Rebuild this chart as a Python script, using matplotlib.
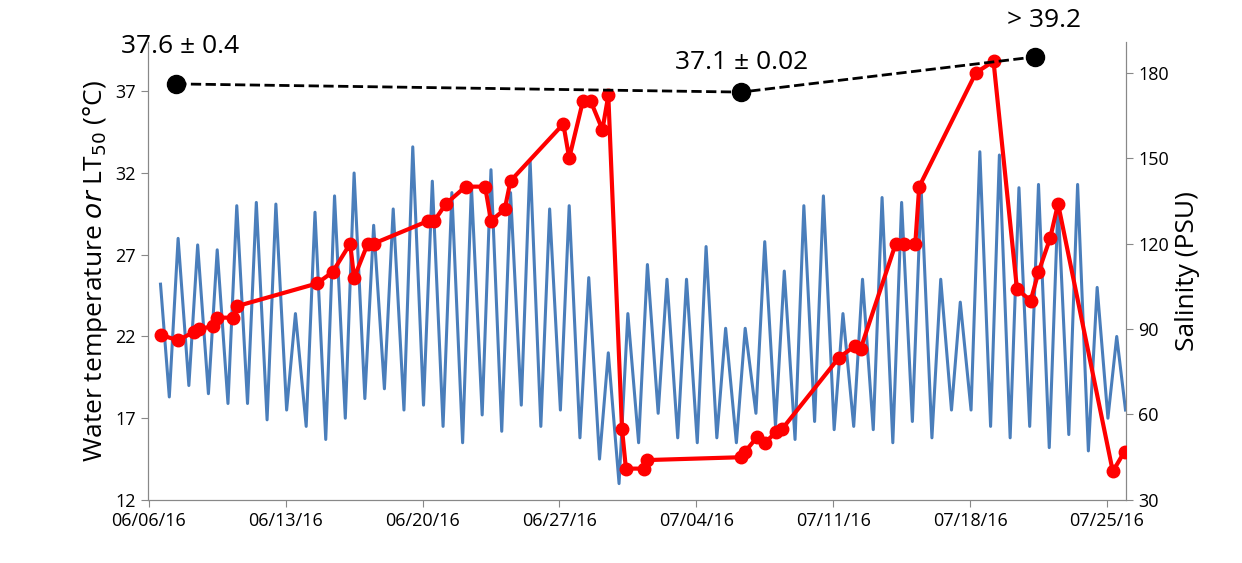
import matplotlib
matplotlib.use("Agg")
import matplotlib.pyplot as plt
import numpy as np

plt.rcParams["font.family"] = ["Open Sans", "DejaVu Sans"]

# day offsets from 06/06/16
tick_days = [0, 7, 14, 21, 28, 35, 42, 49]
tick_labels = ["06/06/16", "06/13/16", "06/20/16", "06/27/16", "07/04/16", "07/11/16", "07/18/16", "07/25/16"]

# water temperature: daily peaks (days 1..49) and morning troughs
temp_start = 25.2
temp_peaks = [28.0, 27.6, 27.3, 30.0, 30.2, 30.1, 23.4, 29.6, 30.6, 32.0,
              28.8, 29.8, 33.6, 31.5, 30.8, 31.2, 32.2, 30.8, 32.8, 29.8,
              30.0, 25.6, 21.0, 23.4, 26.4, 25.5, 25.5, 27.5, 22.5, 22.5,
              27.8, 26.0, 30.0, 30.6, 23.4, 25.5, 30.5, 30.2, 31.0, 25.5,
              24.1, 33.3, 33.1, 31.1, 31.3, 30.2, 31.3, 25.0, 22.0]
temp_troughs = [18.3, 19.0, 18.5, 17.9, 17.9, 16.9, 17.5, 16.5, 15.7, 17.0,
                18.2, 18.8, 17.5, 17.8, 16.5, 15.5, 17.2, 16.2, 17.8, 16.5,
                17.5, 15.8, 14.5, 13.0, 15.5, 17.3, 15.8, 15.5, 15.8, 15.5,
                17.3, 16.5, 15.7, 16.8, 16.3, 16.5, 16.3, 15.5, 16.8, 15.8,
                17.5, 17.5, 16.5, 15.8, 16.5, 15.2, 16.0, 15.0, 17.0]
temp_end = 17.5

# salinity (PSU)
sal_days = [0.6, 1.5, 2.3, 2.55, 3.3, 3.5, 4.3, 4.5, 8.6, 9.4, 10.3, 10.5, 11.2, 11.5,
            14.3, 14.6, 15.2, 16.2, 17.2, 17.5, 18.2, 18.5, 21.2, 21.5, 22.2, 22.6,
            23.2, 23.5, 24.2, 24.4, 25.3, 25.5, 30.3, 30.5, 31.1, 31.5, 32.1, 32.4,
            35.3, 36.1, 36.4, 38.2, 38.6, 39.2, 39.4, 42.3, 43.2, 44.4, 45.1, 45.5,
            46.1, 46.5, 49.3, 49.9]
sal_vals = [88, 86, 89, 90, 91, 94, 94, 98, 106, 110, 120, 108, 120, 120,
            128, 128, 134, 140, 140, 128, 132, 142, 162, 150, 170, 170,
            160, 172, 55, 41, 41, 44, 45, 47, 52, 50, 54, 55,
            80, 84, 83, 120, 120, 120, 140, 180, 184, 104, 100, 110,
            122, 134, 40, 47]

# LT50
lt_days = [1.4, 30.3, 45.3]
lt_vals = [37.45, 36.95, 39.1]
lt_labels = ["37.6 ± 0.4", "37.1 ± 0.02", "> 39.2"]

# build temperature trace from read peaks/troughs
t_x = [0.6]
t_y = [temp_start]
for i, (tr, pk) in enumerate(zip(temp_troughs, temp_peaks)):
    d = i + 1
    t_x += [d + 0.05, d + 0.5]
    t_y += [tr, pk]
t_x.append(49.95)
t_y.append(temp_end)

fig = plt.figure(figsize=(12.42, 5.63), dpi=100)
ax = fig.add_axes([0.119, 0.112, 0.788, 0.813])
ax.plot(t_x, t_y, color="#4a7ebb", lw=2.2, zorder=2)
ax.set_xlim(-0.05, 50)
ax.set_ylim(12, 40)
ax.set_yticks([12, 17, 22, 27, 32, 37])
ax.set_xticks(tick_days)
ax.set_xticklabels(tick_labels)
ax.set_ylabel("Water temperature $\\it{or}$ LT$_{50}$ (°C)", fontsize=19)
ax.tick_params(labelsize=13, length=5, color="#888888")
for s in ["top"]:
    ax.spines[s].set_visible(False)
for s in ["left", "bottom", "right"]:
    ax.spines[s].set_color("#888888")

ax2 = ax.twinx()
ax2.plot(sal_days, sal_vals, color="#ff0000", lw=3, marker="o", ms=9, zorder=3, clip_on=True)
ax2.set_ylim(30, 190.7)
ax2.set_yticks([30, 60, 90, 120, 150, 180])
ax2.set_ylabel("Salinity (PSU)", fontsize=19)
ax2.tick_params(labelsize=13, length=5, color="#888888")
ax2.spines["top"].set_visible(False)
for s in ["left", "bottom", "right"]:
    ax2.spines[s].set_color("#888888")

ax3 = ax.twinx()
ax3.set_ylim(12, 40)
ax3.axis("off")
ax3.plot(lt_days, lt_vals, color="black", ls="--", lw=2, marker="o", ms=13, clip_on=False)
offsets = [(0.2, 2.3), (0, 1.8), (0.5, 2.2)]
for d, v, lab, (dx, dy) in zip(lt_days, lt_vals, lt_labels, offsets):
    ax3.text(d + dx, v + dy, lab, ha="center", va="center", fontsize=19, clip_on=False)

fig.savefig("out.png", facecolor="white")
